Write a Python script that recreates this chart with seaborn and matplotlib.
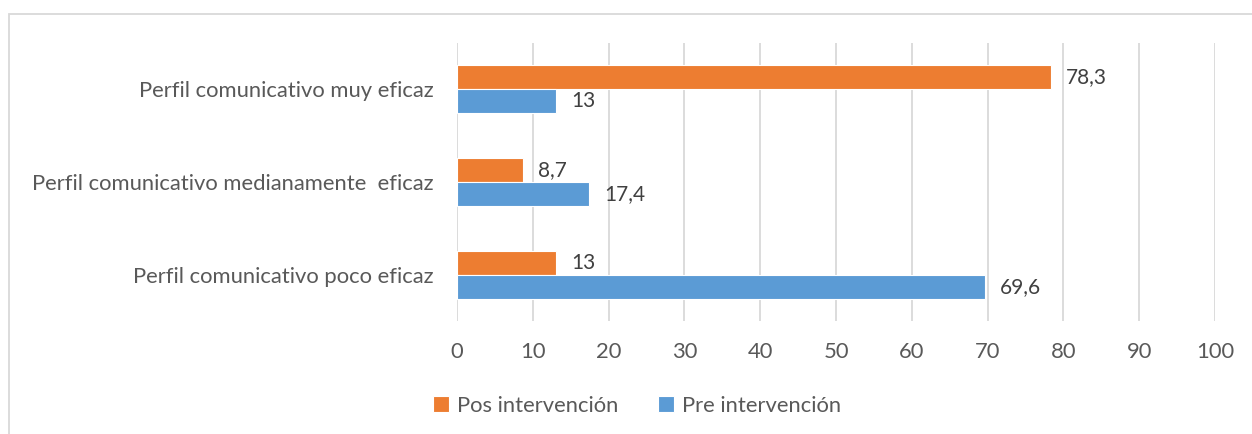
import pandas as pd
import matplotlib.pyplot as plt
import seaborn as sns
from matplotlib.patches import Rectangle

# datos
categorias = ["Perfil comunicativo muy eficaz",
              "Perfil comunicativo medianamente  eficaz",
              "Perfil comunicativo poco eficaz"]
pos_intervencion = [78.3, 8.7, 13]
pre_intervencion = [13, 17.4, 69.6]
series = ["Pos intervención", "Pre intervención"]
colores = ["#ED7D31", "#5B9BD5"]

df = pd.DataFrame({
    "categoria": categorias * 2,
    "valor": pos_intervencion + pre_intervencion,
    "serie": [series[0]] * 3 + [series[1]] * 3,
})

sns.set_style("white")
plt.rcParams["font.family"] = ["Lato", "DejaVu Sans"]
fs = 15.8

fig = plt.figure(figsize=(12.52, 4.34), dpi=100)
ax = fig.add_axes([457 / 1252, 1 - 321 / 434, (1215 - 457) / 1252, (321 - 43) / 434])

sns.barplot(data=df, y="categoria", x="valor", hue="serie", order=categorias,
            hue_order=series, palette=colores, orient="h", width=0.52,
            saturation=1, edgecolor="white", linewidth=0.8, ax=ax)

ax.set_xlim(0, 100)
ax.set_ylim(2.5, -0.5)
ax.set_xticks(range(0, 101, 10))
ax.grid(axis="x", color="#d9d9d9", linewidth=1.3)
ax.set_axisbelow(True)
for s in ax.spines.values():
    s.set_visible(False)
ax.set_xlabel("")
ax.set_ylabel("")
ax.tick_params(axis="both", length=0, labelsize=fs, labelcolor="#595959")
ax.tick_params(axis="x", pad=15)
ax.tick_params(axis="y", pad=17)

# etiquetas de valores
for cont in ax.containers:
    ax.bar_label(cont, labels=[f"{v:g}".replace(".", ",") for v in cont.datavalues],
                 padding=11, fontsize=15, color="#404040")

# leyenda
handles, labels = ax.get_legend_handles_labels()
ax.get_legend().remove()
fig.legend(handles, labels, loc="center", bbox_to_anchor=(637 / 1252, 1 - 406 / 434),
           ncol=2, frameon=False, fontsize=fs, labelcolor="#595959",
           handlelength=0.75, handleheight=0.75, handletextpad=0.35, columnspacing=1.8)

# borde del gráfico
fig.patches.append(Rectangle((9 / 1252, -0.05), 1.1, 1 - 14 / 434 + 0.05,
                             transform=fig.transFigure, fill=False,
                             edgecolor="#d9d9d9", linewidth=1.3))

fig.savefig("out.png", dpi=100)
